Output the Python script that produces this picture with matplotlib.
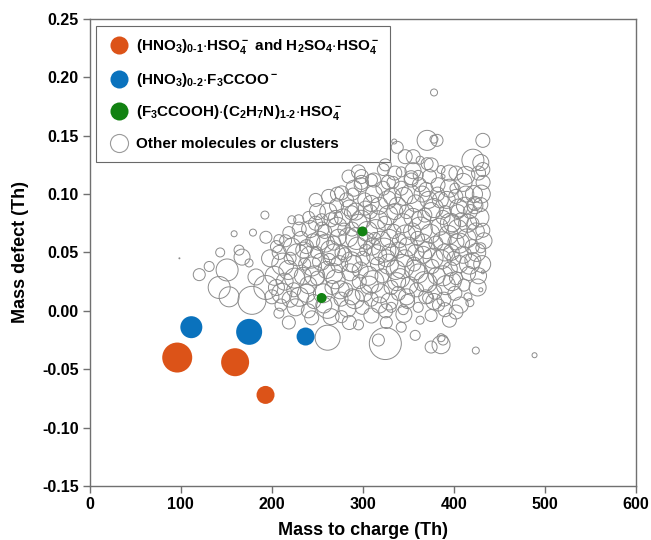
#!/usr/bin/python3

# mass defect plot of detected ions

import matplotlib.pyplot as plt
from matplotlib.lines import Line2D

plt.rcParams['font.family'] = ['Liberation Sans', 'DejaVu Sans']
plt.rcParams['font.weight'] = 'bold'
plt.rcParams['mathtext.fontset'] = 'custom'
plt.rcParams['mathtext.rm'] = 'Liberation Sans:bold'
plt.rcParams['mathtext.it'] = 'Liberation Sans:bold'
plt.rcParams['mathtext.bf'] = 'Liberation Sans:bold'
plt.rcParams['mathtext.sf'] = 'Liberation Sans:bold'

# highlighted ions: mass to charge, mass defect, marker diameter (px)
nitrate_mz = [96.0, 159.6, 193.0]
nitrate_md = [-0.040, -0.044, -0.072]
nitrate_d = [30, 28, 18]

tfa_mz = [111.5, 175.0, 237.0]
tfa_md = [-0.014, -0.018, -0.022]
tfa_d = [22, 26, 18]

amine_mz = [299.5, 254.6]
amine_md = [0.068, 0.011]
amine_d = [10, 10]

# other molecules or clusters
other_mz = [
    378.1, 98.4, 192.3, 158.5, 179.2, 143.2, 120.2, 131.1, 150.8, 167.2,
    163.9, 174.9, 142.1, 153.0, 178.1, 193.4, 182.5, 210.9, 207.7, 218.6,
    193.4, 207.7, 218.6, 221.9, 261.2, 324.6, 243.7, 276.5, 295.1, 309.3,
    317.0, 357.4, 342.1, 325.7, 362.8, 374.9, 390.2, 402.2, 374.9, 385.8,
    388.0, 385.8, 424.0, 415.3, 417.5, 429.5, 431.7, 420.8, 429.5, 402.2,
    402.2, 431.7, 420.8, 371.6, 344.3, 331.1, 360.7, 488.5, 370.5, 381.4,
    378.0, 431.7, 337.7, 334.4, 355.2, 362.8, 370.5, 420.8, 429.5, 431.7,
    385.8, 388.0, 402.2, 413.1, 382.5, 401.1, 327.9, 353.0, 342.1, 360.7,
    369.4, 423.0, 429.5, 390.2, 404.4, 324.6, 346.4, 284.2, 298.4, 309.3,
    295.1, 322.4, 248.1, 262.3, 276.5, 298.4, 229.5, 240.4, 254.6, 269.9,
    287.4, 302.7,
    198, 203, 205, 200, 212, 208, 214, 210, 222, 218,
    224, 220, 226, 232, 228, 234, 230, 236, 242, 238,
    244, 240, 246, 243, 252, 248, 254, 250, 256, 249,
    262, 258, 264, 260, 266, 261, 263, 272, 268, 274,
    270, 276, 271, 269, 282, 278, 284, 280, 286, 281,
    283, 279, 292, 288, 294, 290, 296, 291, 289, 293,
    302, 298, 304, 300, 306, 301, 299, 303, 312, 308,
    314, 310, 316, 311, 309, 313, 322, 318, 324, 320,
    326, 321, 319, 323, 325, 332, 328, 334, 330, 336,
    331, 329, 333, 342, 338, 344, 340, 346, 341, 339,
    343, 352, 348, 354, 350, 356, 351, 349, 353, 362,
    358, 364, 360, 366, 361, 359, 363, 372, 368, 374,
    370, 376, 371, 369, 373, 382, 378, 384, 380, 386,
    381, 379, 383, 392, 388, 394, 390, 396, 391, 389,
    402, 398, 404, 400, 406, 401, 412, 408, 414, 410,
    416, 411, 422, 418, 424, 420, 426, 432, 428, 431,
    205, 215, 225, 235, 238, 245, 247, 255, 257, 259,
    265, 267, 273, 275, 277, 285, 287, 288, 295, 297,
    298, 305, 307, 309, 315, 317, 318, 327, 328, 329,
    335, 337, 339, 345, 347, 348, 355, 357, 358, 365,
    366, 367, 375, 377, 378, 385, 387, 388, 395, 396,
    397, 398, 405, 406, 407, 413, 415, 417, 423, 425,
    427, 430, 433, 230, 250, 272, 290, 312, 335, 355,
    375, 395, 410, 427, 220, 240, 265, 285, 345, 395,
]
other_md = [
    0.187, 0.045, 0.082, 0.066, 0.067, 0.050, 0.031, 0.038, 0.035, 0.046,
    0.052, 0.041, 0.020, 0.012, 0.009, 0.020, 0.029, 0.015, -0.002, -0.010,
    0.063, 0.061, 0.067, 0.078, -0.023, -0.028, -0.006, -0.005, -0.012, -0.004,
    -0.025, -0.021, -0.014, -0.010, -0.008, -0.004, 0.001, -0.001, -0.031, -0.029,
    -0.025, -0.023, -0.034, 0.012, 0.007, 0.018, 0.033, 0.043, 0.054, 0.059,
    0.028, 0.069, 0.075, 0.011, 0.001, 0.003, 0.003, -0.038, 0.146, 0.146,
    0.147, 0.146, 0.140, 0.145, 0.132, 0.129, 0.126, 0.129, 0.127, 0.121,
    0.121, 0.115, 0.118, 0.116, 0.108, 0.105, 0.110, 0.114, 0.119, 0.116,
    0.104, 0.092, 0.091, 0.085, 0.085, 0.125, 0.132, 0.115, 0.115, 0.112,
    0.119, 0.121, 0.095, 0.098, 0.101, 0.110, 0.078, 0.080, 0.078, 0.080,
    0.084, 0.088,
    0.045, 0.030, 0.055, 0.012, 0.040, 0.050, 0.025, 0.005, 0.055, 0.035,
    0.018, 0.045, 0.003, 0.062, 0.048, 0.030, 0.012, 0.040, 0.070, 0.055,
    0.038, 0.022, 0.008, 0.046, 0.060, 0.075, 0.042, 0.028, 0.015, 0.050,
    0.085, 0.068, 0.052, 0.035, 0.020, 0.003, 0.044, 0.072, 0.058, 0.040,
    0.027, 0.010, 0.090, 0.048, 0.095, 0.080, 0.063, 0.048, 0.033, 0.018,
    0.002, 0.070, 0.085, 0.070, 0.055, 0.040, 0.025, 0.010, 0.100, 0.062,
    0.095, 0.078, 0.060, 0.045, 0.030, 0.015, 0.003, 0.052, 0.100, 0.085,
    0.070, 0.055, 0.040, 0.025, 0.010, 0.062, 0.105, 0.090, 0.075, 0.060,
    0.045, 0.030, 0.015, 0.052, 0.000, 0.098, 0.082, 0.068, 0.050, 0.035,
    0.020, 0.008, 0.110, 0.105, 0.090, 0.075, 0.060, 0.045, 0.028, 0.015,
    0.038, 0.100, 0.085, 0.068, 0.055, 0.040, 0.022, 0.008, 0.112, 0.108,
    0.092, 0.078, 0.062, 0.048, 0.032, 0.018, 0.070, 0.095, 0.082, 0.066,
    0.052, 0.038, 0.024, 0.012, 0.115, 0.100, 0.088, 0.072, 0.058, 0.044,
    0.030, 0.016, 0.005, 0.095, 0.080, 0.065, 0.050, 0.036, 0.022, 0.010,
    0.098, 0.075, 0.070, 0.045, 0.040, 0.015, 0.090, 0.078, 0.062, 0.048,
    0.032, 0.022, 0.100, 0.085, 0.068, 0.055, 0.020, 0.110, 0.080, 0.040,
    0.020, 0.060, 0.028, 0.052, 0.015, 0.060, 0.030, 0.070, 0.005, 0.058,
    0.078, 0.032, 0.063, 0.018, 0.050, 0.088, 0.042, 0.012, 0.075, 0.035,
    0.108, 0.068, 0.022, 0.092, 0.048, 0.078, 0.005, 0.095, 0.040, 0.062,
    0.085, 0.025, 0.052, 0.098, 0.065, 0.012, 0.080, 0.035, 0.050, 0.100,
    0.058, 0.025, 0.085, 0.045, 0.008, 0.095, 0.060, 0.030, 0.105, 0.075,
    0.050, 0.025, 0.088, 0.058, 0.005, 0.100, 0.075, 0.040, 0.090, 0.050,
    0.030, 0.100, 0.060, 0.070, 0.085, 0.100, 0.105, 0.112, 0.118, 0.120,
    0.125, 0.118, 0.110, 0.118, 0.010, 0.000, -0.005, -0.010, -0.003, -0.008,
]
other_d = [
    7, 1, 8, 6, 7, 9, 12, 10, 22, 16,
    10, 8, 22, 20, 28, 24, 16, 20, 10, 13,
    12, 10, 12, 8, 25, 32, 14, 12, 10, 15,
    12, 10, 10, 12, 8, 12, 14, 14, 12, 18,
    10, 8, 7, 8, 8, 4, 3, 16, 10, 16,
    13, 14, 12, 11, 10, 10, 10, 5, 20, 12,
    8, 14, 12, 5, 14, 8, 12, 22, 16, 14,
    8, 4, 14, 18, 14, 10, 14, 14, 10, 10,
    14, 14, 14, 12, 14, 12, 14, 13, 14, 12,
    14, 12, 13, 14, 14, 14, 10, 12, 12, 14,
    14, 14,
    17, 19, 12, 14, 22, 14, 17, 12, 17, 19,
    14, 12, 17, 14, 22, 17, 19, 12, 17, 14,
    19, 17, 14, 22, 19, 14, 17, 14, 19, 12,
    17, 14, 19, 17, 14, 22, 12, 19, 14, 17,
    19, 14, 14, 22, 14, 17, 19, 14, 17, 14,
    17, 12, 17, 14, 19, 17, 14, 19, 12, 22,
    14, 19, 17, 14, 19, 17, 14, 12, 17, 14,
    19, 17, 14, 22, 14, 12, 14, 17, 14, 19,
    17, 14, 19, 24, 14, 17, 19, 14, 17, 19,
    14, 17, 12, 14, 17, 19, 14, 17, 19, 14,
    24, 19, 14, 17, 19, 14, 17, 14, 14, 14,
    17, 19, 14, 17, 19, 14, 24, 17, 14, 19,
    17, 14, 19, 14, 14, 14, 19, 17, 14, 19,
    17, 14, 12, 17, 14, 19, 17, 14, 19, 14,
    14, 17, 19, 14, 17, 14, 17, 14, 19, 17,
    14, 12, 17, 14, 17, 14, 17, 14, 19, 17,
    16, 12, 20, 16, 18, 14, 20, 14, 16, 18,
    14, 20, 16, 18, 14, 16, 20, 16, 18, 16,
    14, 20, 18, 16, 20, 18, 16, 18, 20, 18,
    16, 18, 16, 18, 20, 16, 18, 20, 16, 16,
    18, 20, 18, 20, 16, 16, 18, 20, 18, 20,
    16, 18, 18, 20, 16, 16, 18, 20, 16, 18,
    16, 18, 16, 14, 16, 14, 16, 14, 14, 16,
    14, 16, 18, 14, 16, 14, 16, 14, 16, 14,
]

labels = [
    r'(HNO$_3$)$_{0\text{-}1}$$\cdot$HSO$_4^-$ and H$_2$SO$_4$$\cdot$HSO$_4^-$',
    r'(HNO$_3$)$_{0\text{-}2}$$\cdot$F$_3$CCOO$^-$',
    r'(F$_3$CCOOH)$\cdot$(C$_2$H$_7$N)$_{1\text{-}2}$$\cdot$HSO$_4^-$',
    'Other molecules or clusters',
]


def area(d):
    # marker diameter in pixels -> scatter size in points^2 (dpi 100)
    return [(v * 0.72) ** 2 for v in d]


fig = plt.figure(figsize=(6.51, 5.4), dpi=100)
ax = fig.add_axes([0.138, 0.1, 0.839, 0.865])

ax.scatter(other_mz, other_md, s=area(other_d), facecolors='none',
           edgecolors='#8c8c8c', linewidths=0.7, zorder=2)
ax.scatter(nitrate_mz, nitrate_md, s=area(nitrate_d), color='#dc5318',
           linewidths=0, zorder=3)
ax.scatter(tfa_mz, tfa_md, s=area(tfa_d), color='#0a72bd',
           linewidths=0, zorder=3)
ax.scatter(amine_mz, amine_md, s=area(amine_d), color='#128212',
           linewidths=0, zorder=3)

# axes
ax.set_xlim(0, 600)
ax.set_ylim(-0.15, 0.25)
ax.set_xticks(range(0, 601, 100))
ax.set_yticks([-0.15, -0.10, -0.05, 0.00, 0.05, 0.10, 0.15, 0.20, 0.25])
ax.set_yticklabels(['%.2f' % v for v in ax.get_yticks()])
ax.tick_params(direction='out', length=5, width=1, color='#707070',
               labelsize=11.5, pad=3)
for i in ['top', 'right', 'bottom', 'left']:
    ax.spines[i].set_color('#707070')
    ax.spines[i].set_linewidth(1)
ax.set_xlabel('Mass to charge (Th)', fontsize=13, fontweight='bold',
              labelpad=7)
ax.set_ylabel('Mass defect (Th)', fontsize=13, fontweight='bold',
              labelpad=9)

# legend
handles = [
    Line2D([], [], marker='o', linestyle='none', markersize=13,
           markerfacecolor='#dc5318', markeredgecolor='none'),
    Line2D([], [], marker='o', linestyle='none', markersize=13,
           markerfacecolor='#0a72bd', markeredgecolor='none'),
    Line2D([], [], marker='o', linestyle='none', markersize=13,
           markerfacecolor='#128212', markeredgecolor='none'),
    Line2D([], [], marker='o', linestyle='none', markersize=13,
           markerfacecolor='none', markeredgecolor='#9a9a9a',
           markeredgewidth=0.8),
]
leg = ax.legend(handles, labels, loc='upper left',
                bbox_to_anchor=(0.011, 0.985), fontsize=11,
                frameon=True, fancybox=False, borderpad=0.75,
                labelspacing=0.95, handletextpad=0.35, handlelength=1.5,
                borderaxespad=0)
leg.get_frame().set_edgecolor('#444444')
leg.get_frame().set_linewidth(0.8)
leg.set_zorder(1)

fig.savefig('out.png', dpi=100)
